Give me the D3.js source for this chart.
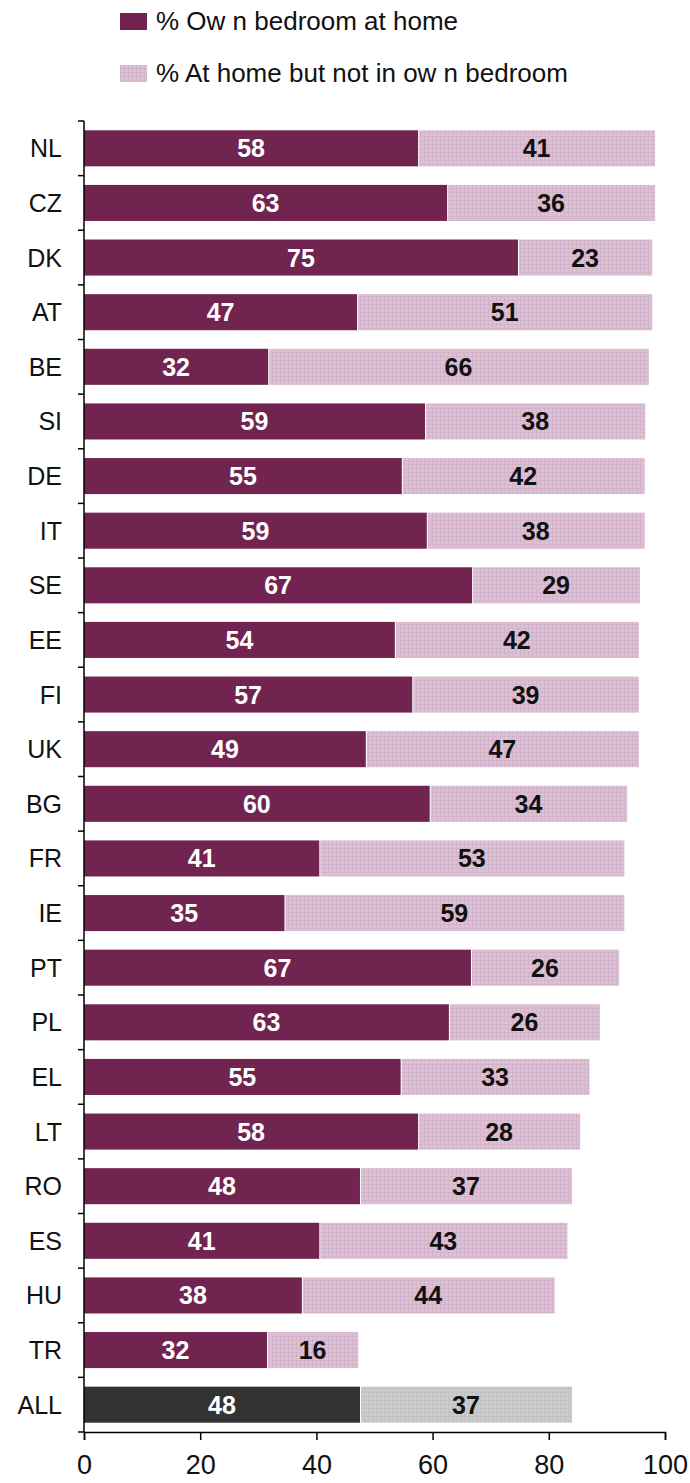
<!DOCTYPE html>
<html>
<head>
<meta charset="utf-8">
<script src="https://d3js.org/d3.v7.min.js"></script>
<style>
  body { margin: 0; background: #fff; }
  text { font-family: "Liberation Sans", Arial, sans-serif; }
</style>
</head>
<body>
<script>
// Countries, top to bottom
const countries = ["NL","CZ","DK","AT","BE","SI","DE","IT","SE","EE","FI","UK","BG","FR","IE","PT","PL","EL","LT","RO","ES","HU","TR","ALL"];
// % own bedroom at home
const ownRoom = [57.5,62.5,74.7,47.0,31.7,58.7,54.7,59.0,66.8,53.5,56.5,48.5,59.5,40.5,34.5,66.6,62.8,54.5,57.5,47.5,40.5,37.5,31.5,47.5];
// % at home but not in own bedroom
const notOwn  = [40.8,35.8,23.1,50.8,65.5,37.9,41.8,37.5,28.9,42.0,39.0,47.0,34.0,52.5,58.5,25.5,26.0,32.5,27.9,36.5,42.7,43.5,15.7,36.5];
const xTicks = [0,20,40,60,80,100];
const legendLabels = ["% Ow n bedroom at home", "% At home but not in ow n bedroom"];

const W = 690, H = 1483;
const margin = { left: 84, right: 25, top: 121, bottom: 51 };

const svg = d3.select("body").append("svg")
    .attr("width", W).attr("height", H);

// grid patterns for the light segments
const defs = svg.append("defs");
function gridPattern(id, base, line) {
    const p = defs.append("pattern").attr("id", id)
        .attr("patternUnits", "userSpaceOnUse").attr("width", 4).attr("height", 4);
    p.append("rect").attr("width", 4).attr("height", 4).attr("fill", base);
    p.append("path").attr("d", "M0 0.5H4M0.5 0V4").attr("stroke", line).attr("stroke-width", 0.6);
}
gridPattern("pinkGrid", "#dcc0d4", "#cfaec6");
gridPattern("greyGrid", "#cbcbcb", "#bdbdbd");

const x = d3.scaleLinear().domain([0, 100]).range([margin.left, W - margin.right]);
const y = d3.scaleBand().domain(countries)
    .range([margin.top, H - margin.bottom]).paddingInner(0.34).paddingOuter(0.17);

const rows = svg.append("g").selectAll("g")
    .data(countries).join("g");

rows.append("rect")
    .attr("x", x(0))
    .attr("y", d => y(d))
    .attr("width", (d, i) => x(ownRoom[i]) - x(0))
    .attr("height", y.bandwidth())
    .attr("fill", d => d === "ALL" ? "#333333" : "#722450");

rows.append("rect")
    .attr("x", (d, i) => x(ownRoom[i]) + 1)
    .attr("y", d => y(d))
    .attr("width", (d, i) => x(ownRoom[i] + notOwn[i]) - x(ownRoom[i]) - 1)
    .attr("height", y.bandwidth())
    .attr("fill", d => d === "ALL" ? "url(#greyGrid)" : "url(#pinkGrid)");

// value labels
rows.append("text")
    .attr("x", (d, i) => x(ownRoom[i] / 2))
    .attr("y", d => y(d) + y.bandwidth() / 2)
    .attr("dy", "0.36em")
    .attr("text-anchor", "middle")
    .attr("fill", "#fff").attr("font-weight", "bold").attr("font-size", 25)
    .text((d, i) => Math.round(ownRoom[i]));

rows.append("text")
    .attr("x", (d, i) => x(ownRoom[i] + notOwn[i] / 2))
    .attr("y", d => y(d) + y.bandwidth() / 2)
    .attr("dy", "0.36em")
    .attr("text-anchor", "middle")
    .attr("fill", "#111").attr("font-weight", "bold").attr("font-size", 25)
    .text((d, i) => Math.round(notOwn[i]));

// y axis: line with ticks at band boundaries
const yAxis = svg.append("g");
const yTop = margin.top, yBot = H - margin.bottom;
yAxis.append("line").attr("x1", x(0)).attr("x2", x(0))
    .attr("y1", yTop).attr("y2", yBot).attr("stroke", "#000").attr("stroke-width", 1.5);
const step = y.step();
yAxis.selectAll("line.tk").data(d3.range(countries.length + 1)).join("line")
    .attr("class", "tk")
    .attr("x1", x(0) - 6).attr("x2", x(0))
    .attr("y1", i => yTop + i * step).attr("y2", i => yTop + i * step)
    .attr("stroke", "#000").attr("stroke-width", 1.5);
yAxis.selectAll("text").data(countries).join("text")
    .attr("x", 62)
    .attr("y", d => y(d) + y.bandwidth() / 2)
    .attr("dy", "0.36em")
    .attr("text-anchor", "end")
    .attr("font-size", 25).attr("fill", "#111")
    .text(d => d);

// x axis
const xAxis = svg.append("g").attr("transform", `translate(0,${yBot})`)
    .call(d3.axisBottom(x).tickValues(xTicks).tickSize(8));
xAxis.select(".domain").attr("stroke-width", 1.5);
xAxis.selectAll(".tick line").attr("stroke-width", 1.5);
xAxis.selectAll("text").attr("font-size", 27).attr("fill", "#111")
    .attr("y", 42).attr("dy", 0)
    .attr("font-family", "'Liberation Sans', Arial, sans-serif");

// legend
const legend = svg.append("g");
const legendFill = ["#722450", "url(#pinkGrid)"];
legendLabels.forEach((lab, i) => {
    const ly = 21 + i * 52;
    legend.append("rect").attr("x", 120).attr("y", ly - 8).attr("width", 27).attr("height", 17)
        .attr("fill", legendFill[i]);
    legend.append("text").attr("x", 156).attr("y", ly).attr("dy", "0.36em")
        .attr("font-size", 26).attr("fill", "#111").text(lab);
});
</script>
</body>
</html>
